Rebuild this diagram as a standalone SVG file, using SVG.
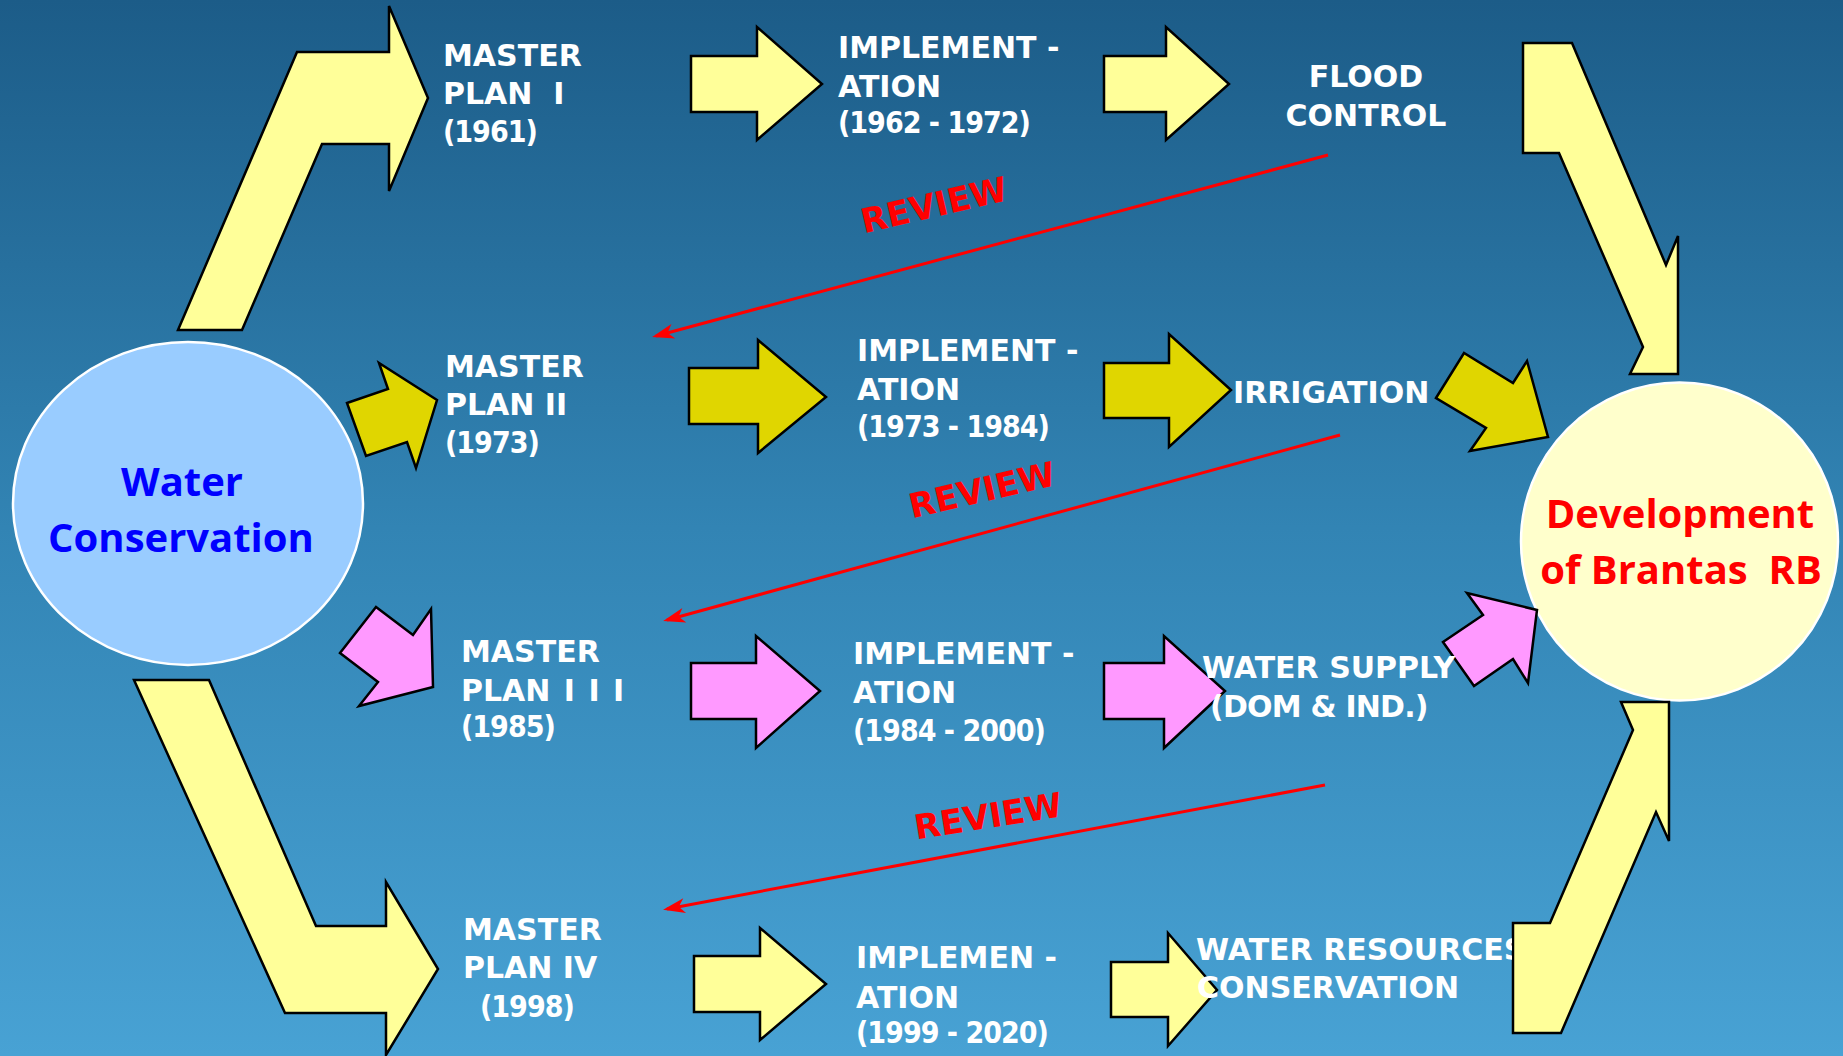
<svg xmlns="http://www.w3.org/2000/svg" width="1843" height="1056" viewBox="0 0 1843 1056">
<defs>
<linearGradient id="bg" x1="0" y1="0" x2="0" y2="1">
<stop offset="0" stop-color="#1c5c88"/>
<stop offset="0.5" stop-color="#3284b4"/>
<stop offset="1" stop-color="#48a2d4"/>
</linearGradient>
<marker id="rv" markerUnits="userSpaceOnUse" viewBox="-26 -10 28 20" refX="-4" refY="0" markerWidth="28" markerHeight="20" orient="auto">
<path d="M0,0 L-22,-7.5 L-16,0 L-22,7.5 Z" fill="#ff0000"/>
</marker>
<clipPath id="clipWR"><rect x="1100" y="900" width="412" height="156"/></clipPath>
<style>
.blk{stroke:#000;stroke-width:2.5;stroke-linejoin:miter}
.y{fill:#ffff99}.o{fill:#e0d600}.p{fill:#ff99ff}
.lbl{font-family:"DejaVu Sans",sans-serif;font-weight:bold;font-size:30px;fill:#ffffff}
.yr{font-family:"DejaVu Sans Condensed","DejaVu Sans",sans-serif;font-stretch:condensed;letter-spacing:-1px}
.rev{font-family:"DejaVu Sans",sans-serif;font-weight:bold;font-size:34px;fill:#ff0000;text-anchor:middle}
.rl{stroke:#ff0000;stroke-width:3;fill:none;marker-end:url(#rv)}
.big{font-family:"Open Sans",sans-serif;font-weight:bold;font-size:40px;text-anchor:middle}
.circ{stroke:#ffffff;stroke-width:2.5}
</style>
</defs>
<rect x="0" y="0" width="1843" height="1056" fill="url(#bg)"/>

<g id="water-conservation">
<ellipse class="circ" cx="188" cy="503.5" rx="175" ry="161.5" fill="#99ccff"/>
<text class="big" fill="#0000ff"><tspan x="182" y="496">Water</tspan><tspan x="181" y="552">Conservation</tspan></text>
</g>
<g id="development">
<ellipse class="circ" cx="1679.5" cy="541.5" rx="158.5" ry="159" fill="#ffffcc"/>
<text class="big" fill="#ff0000" xml:space="preserve"><tspan x="1680" y="528">Development</tspan><tspan x="1681" y="584">of Brantas  RB</tspan></text>
</g>

<g id="connectors">
<polygon class="blk y" points="178,330 242,330 322,144 389,144 389,191 428,98 389,6 389,52 297,52"/>
<polygon class="blk y" points="691,56 757,56 757,27 822,84 757,140 757,112 691,112"/>
<polygon class="blk y" points="1104,56 1166,56 1166,27 1229,84 1166,140 1166,112 1104,112"/>
<polygon class="blk y" points="1523,43 1572,43 1666,265 1678,236 1678,374 1630,374 1643,347 1559,153 1523,153"/>
<polygon class="blk o" points="347,403 388,389 379,363 437,400 416,468 407,442 366,456"/>
<polygon class="blk o" points="689,368 758,368 758,340 826,397 758,453 758,424 689,424"/>
<polygon class="blk o" points="1104,363 1169,363 1169,334 1231,390 1169,447 1169,418 1104,418"/>
<polygon class="blk o" points="1436,398 1464,353 1513,383 1527,361 1548,437 1470,451 1486,428"/>
<polygon class="blk p" points="340,653 376,607 413,635 431,609 433,687 359,706 378,682"/>
<polygon class="blk p" points="691,663 756,663 756,636 820,691 756,748 756,719 691,719"/>
<polygon class="blk p" points="1104,663 1164,663 1164,636 1225,691 1164,748 1164,719 1104,719"/>
<polygon class="blk p" points="1443,642 1483,615 1467,593 1537,610 1528,683 1513,659 1474,686"/>
<polygon class="blk y" points="134,680 209,680 316,926 386,926 386,882 438,969 386,1055 386,1013 285,1013"/>
<polygon class="blk y" points="694,956 760,956 760,928 826,984 760,1040 760,1012 694,1012"/>
<polygon class="blk y" points="1111,962 1168,962 1168,933 1217,990 1168,1046 1168,1017 1111,1017"/>
<polygon class="blk y" points="1513,923 1550,923 1633,730 1621,702 1669,702 1669,841 1656,812 1561,1033 1513,1033"/>
<line class="rl" x1="1328" y1="155" x2="656" y2="336"/>
<line class="rl" x1="1340" y1="435" x2="667" y2="620"/>
<line class="rl" x1="1325" y1="785" x2="667" y2="909"/>
<text class="rev" transform="translate(934,205) rotate(-13)" x="0" y="12">REVIEW</text>
<text class="rev" transform="translate(982,490) rotate(-13)" x="0" y="12">REVIEW</text>
<text class="rev" transform="translate(988,816) rotate(-9)" x="0" y="12">REVIEW</text>
</g>

<g id="master-plan-1"><text class="lbl" xml:space="preserve"><tspan x="443" y="66">MASTER</tspan><tspan x="443" y="104">PLAN  I</tspan><tspan class="yr" x="443" y="142">(1961)</tspan></text></g>
<g id="implementation-1"><text class="lbl"><tspan x="838" y="58">IMPLEMENT -</tspan><tspan x="838" y="97">ATION</tspan><tspan class="yr" x="838" y="133">(1962 - 1972)</tspan></text></g>
<g id="flood-control"><text class="lbl" text-anchor="middle"><tspan x="1366" y="87">FLOOD</tspan><tspan x="1366" y="126">CONTROL</tspan></text></g>

<g id="master-plan-2"><text class="lbl"><tspan x="445" y="377">MASTER</tspan><tspan x="445" y="415">PLAN II</tspan><tspan class="yr" x="445" y="453">(1973)</tspan></text></g>
<g id="implementation-2"><text class="lbl"><tspan x="857" y="361">IMPLEMENT -</tspan><tspan x="857" y="400">ATION</tspan><tspan class="yr" x="857" y="437">(1973 - 1984)</tspan></text></g>
<g id="irrigation"><text class="lbl" x="1233" y="403">IRRIGATION</text></g>

<g id="master-plan-3"><text class="lbl" word-spacing="3"><tspan x="461" y="662">MASTER</tspan><tspan x="461" y="701">PLAN I I I</tspan><tspan class="yr" x="461" y="737">(1985)</tspan></text></g>
<g id="implementation-3"><text class="lbl"><tspan x="853" y="664">IMPLEMENT -</tspan><tspan x="853" y="703">ATION</tspan><tspan class="yr" x="853" y="741">(1984 - 2000)</tspan></text></g>
<g id="water-supply"><text class="lbl"><tspan x="1202" y="678">WATER SUPPLY</tspan><tspan x="1210" y="717" letter-spacing="-0.8">(DOM &amp; IND.)</tspan></text></g>

<g id="master-plan-4"><text class="lbl"><tspan x="463" y="940">MASTER</tspan><tspan x="463" y="978">PLAN IV</tspan><tspan class="yr" x="480" y="1017">(1998)</tspan></text></g>
<g id="implementation-4"><text class="lbl"><tspan x="856" y="968">IMPLEMEN -</tspan><tspan x="856" y="1008">ATION</tspan><tspan class="yr" x="856" y="1043">(1999 - 2020)</tspan></text></g>
<g id="water-resources-conservation"><text class="lbl" clip-path="url(#clipWR)"><tspan x="1196" y="960">WATER RESOURCES</tspan><tspan x="1197" y="998">CONSERVATION</tspan></text></g>
</svg>
